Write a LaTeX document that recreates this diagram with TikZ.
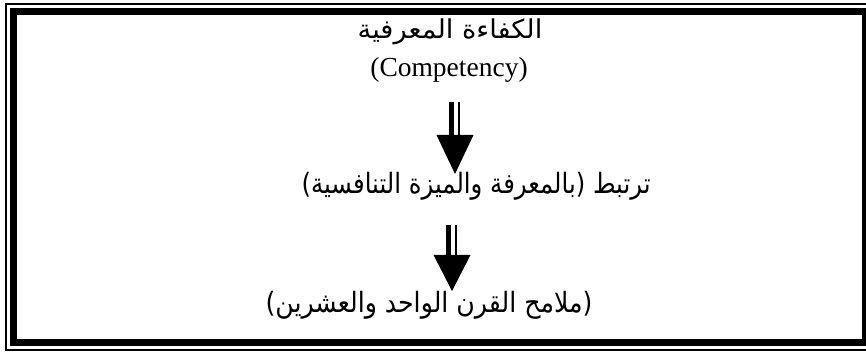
\documentclass[tikz,border=0pt]{standalone}
\usepackage{fontspec}
\setmainfont{Liberation Serif}
\newfontfamily\arabicfont[Script=Arabic]{DejaVu Sans}
\TeXXeTstate=1
\usetikzlibrary{calc}
\tikzset{
  frameouter/.style={draw=black, line width=1.1pt},
  frameinner/.style={draw=black, line width=7pt},
  arabtext/.style={anchor=base, inner sep=0pt, font=\arabicfont\fontsize{28}{32}\selectfont},
  arabtitle/.style={anchor=base, inner sep=0pt, font=\arabicfont\fontsize{26}{30}\selectfont},
  lattext/.style={anchor=base, inner sep=0pt, font=\fontsize{27.5}{30}\selectfont},
}
\newcommand\blockarrow[3]{% start, end, head length
  \fill ($(#1)+(-6.5,0)$) rectangle ($(#2)+(-1.5,-#3)$);
  \fill ($(#1)+(2.5,0)$) rectangle ($(#2)+(4.5,-#3)$);
  \fill ($(#2)+(-18.5,-#3)$) -- ($(#2)+(18.5,-#3)$) -- (#2) -- cycle;
}
\begin{document}
\begin{tikzpicture}[x=1pt,y=-1pt]
\useasboundingbox (0,0) rectangle (866,352);
\clip (0,0) rectangle (866,352);
\fill[white] (0,0) rectangle (866,352);
\draw[frameouter] (6,4) rectangle (873,350);
\draw[frameinner] (13.5,11.5) rectangle (865.5,342.5);

\node[arabtitle] (title) at (450,39) {\scalebox{1.05}[1]{\beginR الكفاءة المعرفية\endR}};
\node[lattext] (comp) at (449,77) {(Competency)};
\node[arabtext] (link) at (476,194) {\scalebox{0.87}[1]{\beginR ترتبط (بالمعرفة والميزة التنافسية)\endR}};
\node[arabtext] (feat) at (429,312) {\scalebox{0.9}[1]{\beginR (ملامح القرن الواحد والعشرين)\endR}};

\coordinate (a1s) at (455,102);
\coordinate (a1e) at (455,174);
\coordinate (a2s) at (452,225);
\coordinate (a2e) at (452,291);
\blockarrow{a1s}{a1e}{39}
\blockarrow{a2s}{a2e}{36}
\end{tikzpicture}
\end{document}
